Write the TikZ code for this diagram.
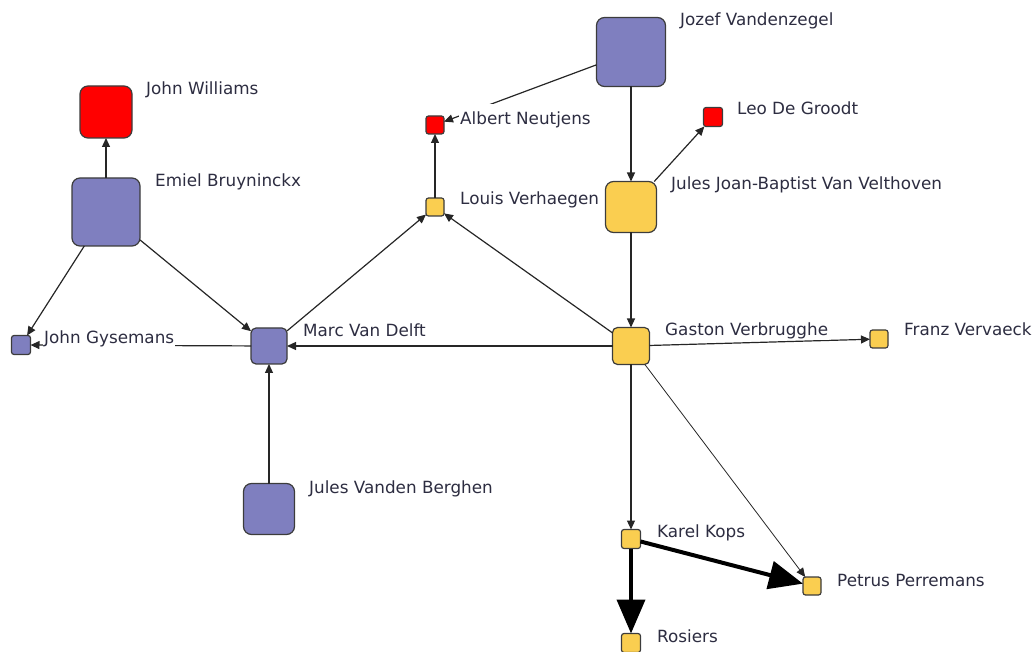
\documentclass[tikz,border=0pt]{standalone}
\usepackage{fontspec}
\setmainfont{DejaVu Sans}
\usetikzlibrary{arrows.meta}
\definecolor{nblue}{RGB}{127,127,191}
\definecolor{nyellow}{RGB}{250,206,80}
\definecolor{nred}{RGB}{255,0,0}
\definecolor{nborder}{RGB}{60,60,60}
\definecolor{ntext}{RGB}{45,45,65}
\begin{document}
\begin{tikzpicture}[x=1pt,y=-1pt,
  nd/.style={rectangle,draw=nborder,line width=1.2pt,inner sep=0pt,outer sep=0pt},
  big/.style={nd,minimum size=#1,rounded corners=8pt},
  mid/.style={nd,minimum size=#1,rounded corners=5pt},
  sml/.style={nd,minimum size=#1,rounded corners=2.5pt},
  bl/.style={fill=nblue},
  ye/.style={fill=nyellow},
  rd/.style={fill=nred},
  ed/.style={draw=black!85,line width=1.2pt,-{Triangle[length=9pt,width=8pt]}},
  thin/.style={draw=black!85,line width=0.8pt,-{Triangle[length=9pt,width=8pt]}},
  heavy/.style={draw=black,line width=4pt,-{Triangle[length=34pt,width=28pt]}},
  lb/.style={anchor=base west,fill=white,inner sep=1pt,text=ntext,font=\fontsize{16.8}{19}\selectfont},
  tall/.style={text height=20pt}]
\useasboundingbox (0,0) rectangle (1034,652);
% nodes
\node[big=52pt,rd] (jw) at (106,112) {};
\node[big=68pt,bl] (eb) at (106,212) {};
\node[sml=19pt,bl] (jg) at (21,345) {};
\node[mid=36pt,bl] (mv) at (269,346) {};
\node[big=51pt,bl] (jv) at (269,509) {};
\node[sml=18pt,rd] (an) at (435,125) {};
\node[sml=18pt,ye] (lv) at (435,207) {};
\node[big=69pt,bl] (jz) at (631,52) {};
\node[sml=19pt,rd] (ld) at (713,117) {};
\node[big=51pt,ye] (jj) at (631,207) {};
\node[mid=37pt,ye] (gv) at (631,346) {};
\node[sml=18pt,ye] (fv) at (879,339) {};
\node[sml=19pt,ye] (kk) at (631,539) {};
\node[sml=18pt,ye] (pp) at (812,586) {};
\node[sml=19pt,ye] (ro) at (631,643) {};
% edges
\draw[ed] (eb) -- (jw);
\draw[ed] (eb) -- (jg);
\draw[ed] (eb) -- (mv);
\draw[ed] (mv) -- (jg);
\draw[ed] (mv) -- (lv);
\draw[ed] (jv) -- (mv);
\draw[ed] (gv) -- (mv);
\draw[ed] (gv) -- (lv);
\draw[ed] (lv) -- (an);
\draw[ed] (jz) -- (an);
\draw[ed] (jz) -- (jj);
\draw[ed] (jj) -- (ld);
\draw[ed] (jj) -- (gv);
\draw[ed] (gv) -- (fv);
\draw[ed] (gv) -- (kk);
\draw[thin] (gv) -- (pp);
\draw[heavy] (kk) -- (pp);
\draw[heavy] (kk) -- (ro);
% labels
\node[lb] (ljw) at (145,95) {John Williams};
\node[lb] (leb) at (154,187) {Emiel Bruyninckx};
\node[lb] (ljg) at (43,344) {John Gysemans};
\node[lb] (lmv) at (302,337) {Marc Van Delft};
\node[lb] (ljv) at (308,493) {Jules Vanden Berghen};
\node[lb,tall] (lan) at (459,125) {Albert Neutjens};
\node[lb] (llv) at (459,205) {Louis Verhaegen};
\node[lb] (ljz) at (679,26) {Jozef Vandenzegel};
\node[lb] (lld) at (736,115) {Leo De Groodt};
\node[lb] (ljj) at (670,190) {Jules Joan-Baptist Van Velthoven};
\node[lb] (lgv) at (664,336) {Gaston Verbrugghe};
\node[lb] (lfv) at (903,336) {Franz Vervaeck};
\node[lb] (lkk) at (656,537) {Karel Kops};
\node[lb] (lpp) at (836,586) {Petrus Perremans};
\node[lb] (lro) at (656,642) {Rosiers};
\end{tikzpicture}
\end{document}
